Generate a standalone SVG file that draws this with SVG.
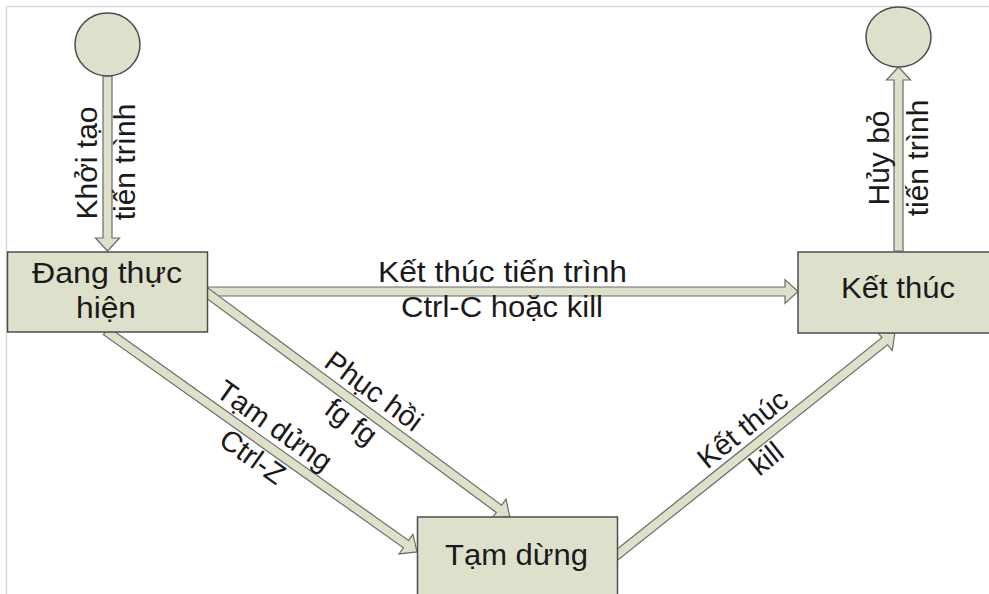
<svg xmlns="http://www.w3.org/2000/svg" width="989" height="594" viewBox="0 0 989 594">
  <style>
    .frame { fill: none; stroke: #d9d9d9; stroke-width: 1.5; }
    .node { fill: #dde0ca; stroke: #4d4d4d; stroke-width: 1.5; }
    .arrow { fill: #dde1c9; stroke: #6b6b6b; stroke-width: 1.2; stroke-linejoin: miter; }
    text { font-family: "Liberation Sans", Arial, sans-serif; fill: #1a1a1a; }
    .lbl { font-size: 29px; }
    .vlbl { font-size: 30px; text-anchor: middle; }
    .dlbl { font-size: 29px; text-anchor: middle; }
  </style>
  <defs>
    <!-- unit block arrows: shaft along +x, tip at the given length -->
    <polygon id="arrow175" points="0,-4.5 162,-4.5 162,-12 175,0 162,12 162,4.5 0,4.5"/>
    <polygon id="arrow184" points="0,-4.5 171,-4.5 171,-12 184,0 171,12 171,4.5 0,4.5"/>
    <polygon id="arrow591" points="0,-4.5 578,-4.5 578,-12 591,0 578,12 578,4.5 0,4.5"/>
    <polygon id="arrow381" points="0,-4.5 368,-4.5 368,-12 381.5,0 368,12 368,4.5 0,4.5"/>
    <polygon id="arrow362" points="0,-4.5 349,-4.5 349,-12 362,0 349,12 349,4.5 0,4.5"/>
  </defs>

  <rect width="989" height="594" fill="#ffffff"/>
  <polyline class="frame" points="6.5,594 6.5,6.5 989,6.5"/>

  <!-- connectors -->
  <g id="connectors">
    <g id="edge-start-running">
      <use href="#arrow175" class="arrow" transform="translate(107.5,76) rotate(90)"/>
      <text class="vlbl" transform="translate(97,163) rotate(-90)">Khởi tạo</text>
      <text class="vlbl" transform="translate(135,162) rotate(-90)">tiến trình</text>
    </g>
    <g id="edge-ended-end">
      <use href="#arrow184" class="arrow" transform="translate(898.5,251) rotate(-90)"/>
      <text class="vlbl" transform="translate(889,158) rotate(-90)">Hủy bỏ</text>
      <text class="vlbl" transform="translate(928,158) rotate(-90)">tiến trình</text>
    </g>
    <g id="edge-running-ended">
      <use href="#arrow591" class="arrow" transform="translate(207,291.5)"/>
      <text class="lbl" x="378" y="282" textLength="249" lengthAdjust="spacingAndGlyphs">Kết thúc tiến trình</text>
      <text class="lbl" x="401" y="317" textLength="202" lengthAdjust="spacingAndGlyphs">Ctrl-C hoặc kill</text>
    </g>
    <g id="edge-running-paused">
      <use href="#arrow381" class="arrow" transform="translate(106,331) rotate(35.39)"/>
      <g transform="translate(263,442) rotate(35.4)">
        <text class="dlbl" x="0" y="-10">Tạm dửng</text>
        <text class="dlbl" x="0" y="28">Ctrl-Z</text>
      </g>
    </g>
    <g id="edge-paused-running">
      <use href="#arrow381" class="arrow" transform="translate(203,290) rotate(36.48)"/>
      <g transform="translate(362,407) rotate(36.5)">
        <text class="dlbl" x="0" y="-10">Phục hồi</text>
        <text class="dlbl" x="0" y="28">fg fg</text>
      </g>
    </g>
    <g id="edge-paused-ended">
      <use href="#arrow362" class="arrow" transform="translate(612,559) rotate(-38.61)"/>
      <g transform="translate(755,444.5) rotate(-38.6)">
        <text class="dlbl" x="0" y="-10">Kết thúc</text>
        <text class="dlbl" x="0" y="28">kill</text>
      </g>
    </g>
  </g>

  <!-- nodes -->
  <g id="start">
    <ellipse class="node" cx="107.5" cy="44.5" rx="32.5" ry="31.5"/>
  </g>
  <g id="end">
    <ellipse class="node" cx="898.5" cy="37" rx="32.5" ry="30"/>
  </g>
  <g id="running">
    <rect class="node" x="7.5" y="252" width="200" height="80"/>
    <text class="lbl" x="32" y="283" textLength="150" lengthAdjust="spacingAndGlyphs">Đang thực</text>
    <text class="lbl" x="76" y="318" textLength="60" lengthAdjust="spacingAndGlyphs">hiện</text>
  </g>
  <g id="ended">
    <rect class="node" x="798" y="252" width="200" height="81"/>
    <text class="lbl" x="841" y="298" textLength="114" lengthAdjust="spacingAndGlyphs">Kết thúc</text>
  </g>
  <g id="paused">
    <rect class="node" x="417.5" y="517" width="200" height="100"/>
    <text class="lbl" x="445" y="565" textLength="143" lengthAdjust="spacingAndGlyphs">Tạm dừng</text>
  </g>
</svg>
